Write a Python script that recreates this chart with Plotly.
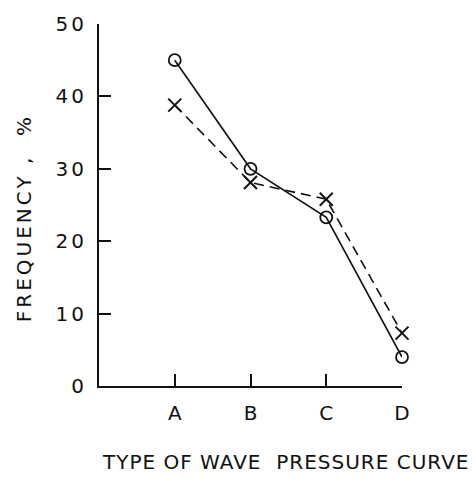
import plotly.graph_objects as go

# Wave pressure curve types and their frequencies (%)
categories = ["A", "B", "C", "D"]
x_pos = [1, 2, 3, 4]
freq_circle = [45.0, 30.0, 23.3, 4.0]
freq_cross = [38.8, 28.1, 25.8, 7.3]
y_tick_vals = [0, 10, 20, 30, 40, 50]
y_tick_text = ["0", "10", "20", "30", "40", "50"]

FONT = "DejaVu Sans, Liberation Sans, sans-serif"
INK = "#111111"


def spaced(text, px):
    return f'<span style="letter-spacing:{px}px">{text}</span>'


fig = go.Figure()
fig.add_trace(go.Scatter(
    x=x_pos, y=freq_circle, mode="lines+markers", cliponaxis=False,
    line=dict(color=INK, width=1.6),
    marker=dict(symbol="circle-open", size=12, color=INK, line=dict(width=1.8)),
    showlegend=False,
))
fig.add_trace(go.Scatter(
    x=x_pos, y=freq_cross, mode="lines+markers", cliponaxis=False,
    line=dict(color=INK, width=1.6, dash="10px,6px"),
    marker=dict(symbol="x-thin-open", size=13, color=INK, line=dict(width=2, color=INK)),
    showlegend=False,
))

fig.update_layout(
    width=476, height=479,
    margin=dict(l=99, r=74, t=14, b=93),
    paper_bgcolor="white", plot_bgcolor="white",
    font=dict(family=FONT, size=20, color=INK),
    xaxis=dict(
        range=[0, 4], tickvals=x_pos, ticktext=categories,
        showgrid=False, zeroline=False, showline=True, linecolor=INK, linewidth=2,
        ticks="inside", ticklen=12, tickwidth=1.6, tickcolor=INK,
        ticklabelstandoff=8, tickfont=dict(size=20),
    ),
    yaxis=dict(
        range=[0, 50], tickvals=y_tick_vals,
        ticktext=[spaced(t, 3) for t in y_tick_text],
        showgrid=False, zeroline=False, showline=True, linecolor=INK, linewidth=2,
        ticks="inside", ticklen=12, tickwidth=1.6, tickcolor=INK,
        ticklabelstandoff=6, tickfont=dict(size=20),
    ),
    annotations=[
        dict(text=spaced("TYPE OF WAVE  PRESSURE CURVE", 1), xref="paper", yref="paper",
             x=0.617, y=-0.21, showarrow=False, font=dict(size=20),
             xanchor="center", yanchor="middle"),
        dict(text=spaced("FREQUENCY ,  %", 3), xref="paper", yref="paper",
             x=-0.247, y=0.464, showarrow=False, textangle=-90,
             font=dict(size=20), xanchor="center", yanchor="middle"),
    ],
)

fig.write_html("out.html")
